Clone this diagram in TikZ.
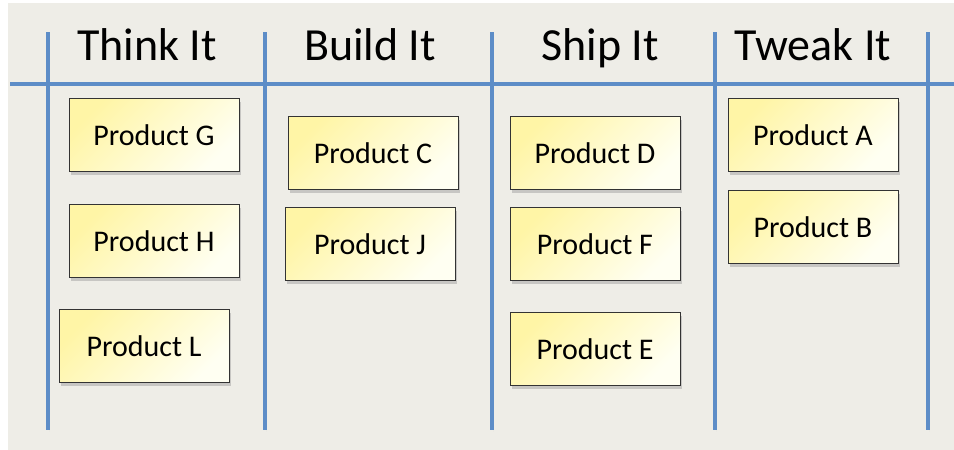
\documentclass[tikz,border=0pt]{standalone}
\usepackage{fontspec}
\setmainfont{Carlito}
\usetikzlibrary{shadows}
\definecolor{boardbg}{HTML}{EEEDE7}
\definecolor{laneblue}{HTML}{5D8DC7}
\definecolor{noteyellow}{HTML}{FFF5A6}
\definecolor{notewhite}{HTML}{FFFFF2}

\begin{document}
\begin{tikzpicture}[x=1pt,y=-1pt,
  lane/.style={laneblue,line width=4.5pt,
    drop shadow={shadow xshift=1pt,shadow yshift=-1.5pt,opacity=.25}},
  note/.style={draw=black!80,line width=1pt,
    minimum width=170pt,minimum height=73pt,
    top color=noteyellow,bottom color=notewhite,shading angle=45,
    font=\fontsize{30}{34}\selectfont,
    drop shadow={shadow xshift=2pt,shadow yshift=-3pt,opacity=.35}},
  head/.style={font=\fontsize{46}{50}\selectfont,anchor=base}]
 \useasboundingbox[fill=white] (0,0) rectangle (954,450);
 \fill[boardbg] (8,3) rectangle (954,450);

 \coordinate (top1) at (48,32);  \coordinate (bot1) at (48,430);
 \coordinate (top2) at (265,32); \coordinate (bot2) at (265,430);
 \coordinate (top3) at (492,32); \coordinate (bot3) at (492,430);
 \coordinate (top4) at (715,32); \coordinate (bot4) at (715,430);
 \coordinate (top5) at (928,32); \coordinate (bot5) at (928,430);
 \coordinate (hl) at (10,84);    \coordinate (hr) at (954,84);

 \draw[lane] (hl) -- (hr);
 \foreach \i in {1,...,5}
   \draw[lane] (top\i) -- (bot\i);

 \node[head] (think) at (147,60) {Think It};
 \node[head] (build) at (370,60) {Build It};
 \node[head] (ship)  at (600,60) {Ship It};
 \node[head] (tweak) at (813,60) {Tweak It};

 \node[note] (pG) at (154,135) {Product G};
 \node[note] (pH) at (154,241) {Product H};
 \node[note] (pL) at (144,346) {Product L};

 \node[note] (pC) at (373,153) {Product C};
 \node[note] (pJ) at (370,244) {Product J};

 \node[note] (pD) at (595,153) {Product D};
 \node[note] (pF) at (595,244) {Product F};
 \node[note] (pE) at (595,349) {Product E};

 \node[note] (pA) at (813,135) {Product A};
 \node[note] (pB) at (813,227) {Product B};
\end{tikzpicture}
\end{document}
